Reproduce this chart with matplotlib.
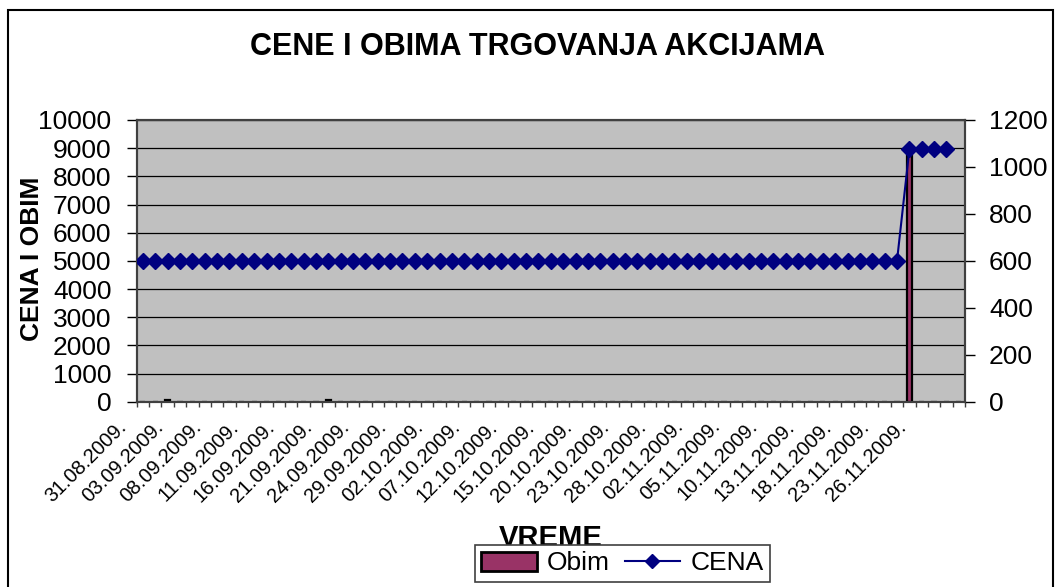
import matplotlib
matplotlib.use("Agg")
import matplotlib.pyplot as plt
import matplotlib.transforms as mtransforms
from matplotlib.patches import Rectangle
from matplotlib.lines import Line2D
import numpy as np

plt.rcParams['font.family'] = ['Liberation Sans', 'DejaVu Sans']

dates = [
    "31.08.2009.", "01.09.2009.", "02.09.2009.", "03.09.2009.", "04.09.2009.", "07.09.2009.",
    "08.09.2009.", "09.09.2009.", "10.09.2009.", "11.09.2009.", "14.09.2009.", "15.09.2009.",
    "16.09.2009.", "17.09.2009.", "18.09.2009.", "21.09.2009.", "22.09.2009.", "23.09.2009.",
    "24.09.2009.", "25.09.2009.", "28.09.2009.", "29.09.2009.", "30.09.2009.", "01.10.2009.",
    "02.10.2009.", "05.10.2009.", "06.10.2009.", "07.10.2009.", "08.10.2009.", "09.10.2009.",
    "12.10.2009.", "13.10.2009.", "14.10.2009.", "15.10.2009.", "16.10.2009.", "19.10.2009.",
    "20.10.2009.", "21.10.2009.", "22.10.2009.", "23.10.2009.", "26.10.2009.", "27.10.2009.",
    "28.10.2009.", "29.10.2009.", "30.10.2009.", "02.11.2009.", "03.11.2009.", "04.11.2009.",
    "05.11.2009.", "06.11.2009.", "09.11.2009.", "10.11.2009.", "11.11.2009.", "12.11.2009.",
    "13.11.2009.", "16.11.2009.", "17.11.2009.", "18.11.2009.", "19.11.2009.", "20.11.2009.",
    "23.11.2009.", "24.11.2009.", "25.11.2009.", "26.11.2009.", "27.11.2009.", "30.11.2009.",
    "",
]

obim = [
    0, 0, 60, 0, 0, 0, 0, 0, 0, 0, 0, 0,
    0, 0, 0, 60, 0, 0, 0, 0, 0, 0, 0, 0,
    0, 0, 0, 0, 0, 0, 0, 0, 0, 0, 0, 0,
    0, 0, 0, 0, 0, 0, 0, 0, 0, 0, 0, 0,
    0, 0, 0, 0, 0, 0, 0, 0, 0, 0, 0, 0,
    0, 0, 8720, 0, 0, 0, 0,
]

cena = [
    600, 600, 600, 600, 600, 600, 600, 600, 600, 600, 600, 600,
    600, 600, 600, 600, 600, 600, 600, 600, 600, 600, 600, 600,
    600, 600, 600, 600, 600, 600, 600, 600, 600, 600, 600, 600,
    600, 600, 600, 600, 600, 600, 600, 600, 600, 600, 600, 600,
    600, 600, 600, 600, 600, 600, 600, 600, 600, 600, 600, 600,
    600, 600, 1075, 1075, 1075, 1075, None,
]

left_ticks = [0, 1000, 2000, 3000, 4000, 5000, 6000, 7000, 8000, 9000, 10000]
right_ticks = [0, 200, 400, 600, 800, 1000, 1200]

W, H = 1055, 587
fig = plt.figure(figsize=(W / 100, H / 100), dpi=100)
fig.patch.set_facecolor('white')

x0, x1, y0, y1 = 136.7, 965, 120, 401.7
ax = fig.add_axes([x0 / W, 1 - y1 / H, (x1 - x0) / W, (y1 - y0) / H])
ax.set_facecolor('#C0C0C0')

n = len(dates)
xs = np.arange(n)
ax.bar(xs, obim, width=0.42, color='#993366', edgecolor='black', linewidth=1.6, zorder=3)
ax.set_xlim(-0.5, n - 0.5)
ax.set_ylim(0, 10000)
ax.set_yticks(left_ticks)
ax.set_yticklabels([str(t) for t in left_ticks])
ax.grid(axis='y', color='black', linewidth=0.9)
ax.set_axisbelow(True)
ax.tick_params(axis='y', direction='out', length=7.2, width=1, pad=11, labelsize=19, colors='black')

# category ticks
ax.set_xticks(np.arange(-0.5, n, 1.0), minor=True)
ax.set_xticks(xs[::3])
ax.set_xticklabels([dates[i] for i in xs[::3]])
ax.tick_params(axis='x', which='minor', direction='out', length=3.8, width=1, color='#404040')
ax.tick_params(axis='x', which='major', length=0, pad=0, labelsize=14.5)
offset = mtransforms.ScaledTranslation(-0.19, -0.22, fig.dpi_scale_trans)
for lab in ax.get_xticklabels():
    lab.set_rotation(45)
    lab.set_ha('right')
    lab.set_va('center')
    lab.set_rotation_mode('anchor')
    lab.set_transform(lab.get_transform() + offset)

for s in ax.spines.values():
    s.set_color('#404040')
    s.set_linewidth(1.5)

ax2 = ax.twinx()
cena_arr = np.array([np.nan if v is None else v for v in cena], dtype=float)
ax2.plot(xs, cena_arr, color='#000080', linewidth=1.5, marker='D', markersize=8,
         markerfacecolor='#000080', markeredgecolor='#000080', zorder=4)
ax2.set_ylim(0, 1200)
ax2.set_yticks(right_ticks)
ax2.set_yticklabels([str(t) for t in right_ticks])
ax2.tick_params(axis='y', direction='out', length=7.2, width=1, pad=10, labelsize=19, colors='black')
for s in ax2.spines.values():
    s.set_color('#404040')
    s.set_linewidth(1.5)

fig.text(537 / W, 1 - 47 / H, "CENE I OBIMA TRGOVANJA AKCIJAMA", ha='center', va='center',
         fontsize=22, fontweight='bold')
fig.text(32 / W, 1 - 259 / H, "CENA I OBIM", ha='center', va='center', rotation=90,
         fontsize=19, fontweight='bold')
fig.text(551 / W, 1 - 538 / H, "VREME", ha='center', va='center', fontsize=21, fontweight='bold',
         zorder=1)

handles = [
    Rectangle((0, 0), 1, 1, facecolor='#993366', edgecolor='black', linewidth=2),
    Line2D([], [], color='#000080', linewidth=1.5, marker='D', markersize=7,
           markerfacecolor='#000080'),
]
leg = fig.legend(handles, ["Obim", "CENA"], loc='center', bbox_to_anchor=(622.5 / W, 1 - 563.5 / H),
                 ncol=2, fontsize=19, frameon=True, fancybox=False, framealpha=1,
                 edgecolor='#404040', handlelength=2.1, handletextpad=0.4, columnspacing=0.55,
                 borderpad=0.25, borderaxespad=0)
leg.get_frame().set_linewidth(1.2)
leg.set_zorder(10)

fig.add_artist(Rectangle((8 / W, -0.05), (1053 - 8) / W, (587 - 9.5) / H + 0.05, fill=False,
                         edgecolor='black', linewidth=1.5, transform=fig.transFigure))

fig.savefig("out.png", dpi=100)
